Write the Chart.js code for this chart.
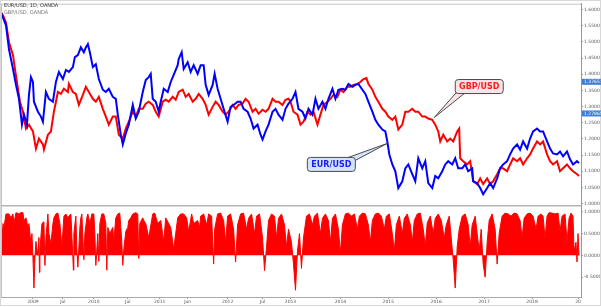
<!DOCTYPE html>
<html>
<head>
<meta charset="utf-8">
<script src="https://cdn.jsdelivr.net/npm/chart.js@4.4.1/dist/chart.umd.min.js"></script>
<style>
  html, body { margin: 0; padding: 0; background: #fff; }
  canvas { display: block; }
</style>
</head>
<body>
<canvas id="fx" width="601" height="307"></canvas>
<script>
// bar index (time) and close values
const eurIdx = [0,2,5,8,12,15,18,21,23,26,28,30,32,33,37,40,42,45,48,52,55,58,62,65,68,72,74,77,80,83,85,87,89,92,95,98,102,105,108,112,115,117,120,122,125,128,132,135,138,142,145,148,150,152,155,158,160,163,167,170,173,177,178,181,183,187,190,193,197,200,203,205,208,212,214,217,220,223,227,230,233,237,240,243,247,250,253,257,260,262,265,268,272,275,278,282,285,288,292,295,298,302,305,308,312,315,318,322,325,328,332,335,338,342,345,348,352,355,358,362,365,368,372,375,378,382,385,387,389,392,395,398,402,405,408,412,415,418,422,425,428,432,435,438,442,445,448,452,455,458,462,465,468,472,473,477,480,483,487,490,493,497,500,503,507,510,513,517,520,523,527,530,533,537,540,543,547,550,553,557,560,563,567,570,573,577,579];
const eurVal = [1.590,1.575,1.551,1.477,1.416,1.367,1.324,1.244,1.275,1.244,1.336,1.391,1.376,1.315,1.284,1.269,1.253,1.345,1.324,1.315,1.376,1.407,1.385,1.413,1.407,1.422,1.453,1.459,1.483,1.468,1.483,1.493,1.468,1.422,1.431,1.385,1.352,1.345,1.355,1.330,1.324,1.275,1.213,1.183,1.217,1.244,1.305,1.263,1.284,1.345,1.382,1.391,1.401,1.324,1.315,1.284,1.315,1.355,1.345,1.376,1.398,1.428,1.447,1.468,1.416,1.437,1.407,1.428,1.401,1.428,1.428,1.367,1.336,1.367,1.401,1.355,1.324,1.293,1.253,1.299,1.305,1.315,1.315,1.293,1.284,1.263,1.232,1.244,1.213,1.198,1.223,1.244,1.284,1.293,1.275,1.259,1.293,1.309,1.324,1.345,1.293,1.284,1.263,1.293,1.275,1.324,1.293,1.315,1.293,1.324,1.355,1.324,1.352,1.355,1.352,1.370,1.361,1.367,1.370,1.352,1.339,1.315,1.284,1.259,1.244,1.229,1.223,1.192,1.152,1.121,1.100,1.048,1.069,1.109,1.121,1.091,1.069,1.140,1.109,1.131,1.063,1.048,1.085,1.078,1.100,1.121,1.131,1.121,1.140,1.109,1.109,1.121,1.100,1.109,1.069,1.063,1.048,1.029,1.048,1.063,1.048,1.078,1.109,1.121,1.131,1.152,1.170,1.183,1.167,1.192,1.170,1.201,1.223,1.232,1.223,1.223,1.192,1.170,1.155,1.152,1.161,1.146,1.161,1.137,1.121,1.131,1.125];

const gbpIdx = [0,2,5,8,12,14,17,19,22,25,28,32,35,38,42,43,47,50,53,57,60,63,67,68,72,75,78,82,85,88,92,95,98,102,105,108,112,115,118,122,125,128,132,135,138,142,145,148,152,155,158,162,165,168,172,175,178,182,185,188,192,195,198,202,205,208,212,215,218,222,225,228,232,235,238,242,245,248,252,255,258,262,265,268,272,275,278,282,285,288,290,293,297,300,303,307,310,313,317,320,323,327,330,333,337,340,343,347,350,353,357,360,363,366,368,372,375,378,382,385,388,392,395,398,402,405,408,412,415,418,422,425,428,432,435,438,440,443,447,450,453,457,459,460,463,467,470,473,477,480,483,487,490,493,497,500,503,507,510,513,517,520,523,527,530,533,537,540,543,547,550,553,557,560,563,567,570,573,577,579];
const gbpVal = [1.591,1.582,1.560,1.499,1.459,1.416,1.355,1.315,1.284,1.232,1.244,1.223,1.170,1.201,1.183,1.167,1.213,1.223,1.284,1.345,1.339,1.355,1.345,1.370,1.345,1.339,1.305,1.336,1.361,1.345,1.324,1.315,1.330,1.293,1.269,1.244,1.269,1.269,1.213,1.201,1.232,1.253,1.284,1.269,1.293,1.293,1.309,1.315,1.305,1.284,1.269,1.315,1.321,1.315,1.330,1.321,1.345,1.352,1.330,1.339,1.315,1.324,1.339,1.324,1.305,1.275,1.299,1.315,1.305,1.284,1.275,1.284,1.305,1.293,1.305,1.309,1.324,1.315,1.284,1.293,1.278,1.290,1.284,1.293,1.324,1.315,1.315,1.305,1.321,1.324,1.315,1.284,1.275,1.244,1.253,1.284,1.275,1.284,1.244,1.275,1.305,1.315,1.324,1.336,1.330,1.352,1.345,1.361,1.361,1.367,1.370,1.376,1.385,1.388,1.370,1.352,1.330,1.315,1.293,1.284,1.269,1.259,1.269,1.229,1.244,1.284,1.284,1.293,1.284,1.284,1.269,1.269,1.263,1.259,1.244,1.223,1.192,1.213,1.192,1.201,1.192,1.223,1.232,1.140,1.131,1.121,1.131,1.069,1.060,1.078,1.060,1.078,1.060,1.069,1.091,1.109,1.109,1.100,1.121,1.140,1.131,1.140,1.121,1.140,1.152,1.170,1.192,1.183,1.192,1.152,1.131,1.121,1.131,1.100,1.109,1.121,1.109,1.100,1.091,1.085];

// lower pane: rolling correlation
const corrIdx = [0,2,3,5,8,10,12,13,15,18,20,22,23,25,27,28,30,31,32,33,34,35,37,38,38.5,39,41,43,44,45,47,48,50,52,53,55,57,59,61,62,63,65,67,68,70,72,72.5,73,75,76,77,79,80,81,83,84,86,87,89,91,93,94,95,97,98,99,101,103,105,106,107,109,112,113,115,117,119,121,122,123,125,127,128,130,132,135,137,138,139,142,143,145,148,152,154,157,160,163,165,168,170,173,177,180,183,186,188,191,193,197,199,200,203,206,208,211,213,214,217,220,223,225,227,230,233,235,237,240,243,246,248,251,254,256,259,262,264,266,268,271,274,276,278,281,284,286,288,291,293,295,297,299,301,303,306,309,312,314,317,320,322,325,328,330,332,335,338,340,342,345,348,351,354,357,359,362,365,368,370,372,375,378,381,384,386,389,392,394,396,399,402,404,407,410,412,414,417,420,423,425,427,430,433,435,438,441,444,446,449,451,453,455,457,459,462,465,468,470,472,475,477,479,481,483,485,487,489,492,495,497,499,502,505,508,511,514,517,520,522,524,527,530,533,536,538,541,543,545,547,549,552,555,558,560,562,565,567,569,571,573,574,576,577,578,579];
const corrVal = [0,0.73,0.64,0.95,0.95,0.86,0.95,0.73,0.98,0.95,0.98,0.98,0.8,0.86,0.64,0.73,0.27,0.5,-0.05,-0.75,-0.05,0.32,0,0.41,-0.39,0.14,0.73,0.77,-0.23,0.41,0.95,0.5,0.27,0.73,0.86,0.95,0.97,0.73,0.2,0.55,0.9,0.95,0.86,0.9,0.95,-0.05,-0.34,0.5,0.9,0.14,-0.27,0.64,0.86,0.95,-0.1,0.5,0.86,0.95,0.73,0.95,0.95,0.5,-0.23,0.5,-0.14,0.73,0.95,0.95,0.73,-0.34,0.64,0.5,0.64,0.32,0.86,0.95,0.97,0.32,-0.23,0.14,0.55,0.64,0.8,0.86,0.95,0.98,0.95,-0.07,0.73,0.86,0.8,0.73,0.41,0.95,0.97,0.73,0.8,0.32,0.86,0.73,0.64,0.14,0.86,0.95,0.95,0.86,0.55,0.95,0.73,0.8,0.64,0.9,0.95,0.7,0.95,0.9,-0.2,0.6,0.95,0.97,0.8,0.3,0.9,0.95,0.6,-0.15,0.7,0.95,0.97,0.6,0.85,0.95,0.5,0.9,0.95,0.4,-0.35,0.2,0.8,0.95,0.9,0.4,0.85,0.95,0.7,0.2,0.6,0.3,-0.2,-0.8,0.1,0.5,-0.3,0.4,0.9,0.95,0.7,0.9,0.97,0.5,0.85,0.95,0.8,0.3,0.85,0.95,0.6,0.05,0.7,0.95,0.97,0.9,0.95,0.6,0.9,0.97,0.95,0.7,0.3,0.8,0.95,0.97,0.9,0.6,0.9,0.95,0.5,0.1,0.7,0.9,0.5,0.85,0.95,0.7,0.3,0.8,0.95,0.97,0.6,0.2,0.75,0.9,0.5,0.85,0.95,0.8,0.4,0.7,0.9,0.4,-0.1,-0.75,0.2,0.6,0.9,0.95,0.7,0.2,0.7,0.9,0.5,0.1,0.6,-0.2,-0.5,0.3,0.8,0.95,0.6,-0.2,0.5,0.9,0.97,0.95,0.9,0.97,0.95,0.8,0.4,0.85,0.95,0.97,0.9,0.6,0.9,0.95,0.9,0.4,0.9,0.98,0.97,0.95,0.97,0.55,0.9,0.95,0.3,0.85,0.97,0.9,0.1,0.3,-0.15,0.5,0];

const tickPos = [32,62,93,127,159,187,227,262,290,340,388,436,484,532,578];
const tickLabels = ['2009','Jul','2010','Jul','2011','Jun','2012','Jul','2013','2014','2015','2016','2017','2018','20'];
const priceTicks = [1.00,1.05,1.10,1.15,1.20,1.25,1.30,1.35,1.40,1.45,1.50,1.55,1.60];
const corrTicks = [-0.5,0,0.5,1.0];
const axisTags = [1.37651, 1.27865];

const callouts = [
  { text: 'GBP/USD', x: 434, y: 1.266, dx: 45, dy: -31, fill: '#fbe4e7', color: '#ff1a1a', tail: [[-22, 5], [-15, 7]] },
  { text: 'EUR/USD', x: 387, y: 1.186, dx: -56, dy: 21, fill: '#d3e4fa', color: '#1a1aff', tail: [[17, -7], [24, -4]] }
];

const pts = (xs, ys) => xs.map((x, i) => ({ x: x, y: ys[i] }));

function roundRect(c, x, y, w, h, r) {
  c.beginPath();
  c.moveTo(x + r, y);
  c.arcTo(x + w, y, x + w, y + h, r);
  c.arcTo(x + w, y + h, x, y + h, r);
  c.arcTo(x, y + h, x, y, r);
  c.arcTo(x, y, x + w, y, r);
  c.closePath();
}

const decor = {
  id: 'decor',
  afterDraw(chart) {
    const c = chart.ctx;
    const a = chart.chartArea;
    const yp = chart.scales.yPrice, yc = chart.scales.yCorr, xs = chart.scales.x;
    c.save();
    // pane frames
    c.strokeStyle = '#c4c4c4';
    c.lineWidth = 1;
    c.beginPath();
    c.moveTo(a.left + 0.5, a.top); c.lineTo(a.left + 0.5, a.bottom);
    c.moveTo(a.left, a.top + 0.5); c.lineTo(a.right, a.top + 0.5);
    c.stroke();
    c.strokeStyle = '#b5b5b5';
    c.lineWidth = 1.5;
    c.beginPath();
    c.moveTo(a.left, yp.bottom); c.lineTo(a.right, yp.bottom);
    c.stroke();
    c.strokeStyle = '#d8d8d8';
    c.lineWidth = 1;
    c.strokeRect(0.5, 0.5, 600, 305);

    // header
    c.font = '5px "DejaVu Sans"';
    c.textBaseline = 'middle';
    c.fillStyle = '#333';
    c.fillText('EUR/USD, 1D, OANDA', 4, 6);
    c.fillStyle = '#777';
    c.fillText('GBP/USD, OANDA', 4, 13);

    // last value tags on price axis
    c.font = '4.5px "DejaVu Sans"';
    axisTags.forEach(v => {
      const py = yp.getPixelForValue(v);
      c.fillStyle = '#3d7fd6';
      c.fillRect(a.right + 1, py - 3, 19, 6);
      c.fillStyle = '#fff';
      c.fillText(v.toFixed(5), a.right + 3, py);
    });

    // callouts
    c.font = 'bold 8px "DejaVu Sans"';
    callouts.forEach(o => {
      const tx = xs.getPixelForValue(o.x), ty = yp.getPixelForValue(o.y);
      const cx = tx + o.dx, cy = ty + o.dy;
      const w = 48, h = 14;
      c.fillStyle = o.fill;
      c.strokeStyle = '#4a4a4a';
      c.lineWidth = 1;
      c.beginPath();
      c.moveTo(tx, ty);
      c.lineTo(cx + o.tail[0][0], cy + o.tail[0][1]);
      c.lineTo(cx + o.tail[1][0], cy + o.tail[1][1]);
      c.closePath();
      c.fill();
      c.stroke();
      roundRect(c, cx - w / 2, cy - h / 2, w, h, 3);
      c.fill();
      c.stroke();
      c.fillStyle = o.color;
      c.textAlign = 'center';
      c.fillText(o.text, cx, cy + 0.5);
      c.textAlign = 'left';
    });
    c.restore();
  }
};

new Chart(document.getElementById('fx'), {
  type: 'line',
  data: {
    datasets: [
      { label: 'EUR/USD', data: pts(eurIdx, eurVal), yAxisID: 'yPrice', borderColor: '#0000ff', borderWidth: 2, pointRadius: 0, tension: 0 },
      { label: 'GBP/USD', data: pts(gbpIdx, gbpVal), yAxisID: 'yPrice', borderColor: '#ff0000', borderWidth: 2, pointRadius: 0, tension: 0 },
      { label: 'Correlation', data: pts(corrIdx, corrVal), yAxisID: 'yCorr', borderColor: '#ff0000', backgroundColor: '#ff0000', fill: { value: 0 }, borderWidth: 1, pointRadius: 0, tension: 0 }
    ]
  },
  options: {
    responsive: false,
    animation: false,
    layout: { padding: { left: 1, top: 1, right: 0, bottom: 0 } },
    plugins: { legend: { display: false }, tooltip: { enabled: false } },
    scales: {
      x: {
        type: 'linear', min: 0, max: 581,
        afterBuildTicks: s => { s.ticks = tickPos.map(v => ({ value: v })); },
        afterFit: s => { s.height = 10; },
        ticks: {
          autoSkip: false, maxRotation: 0, padding: 0, color: '#555',
          font: { size: 4.5, family: '"DejaVu Sans"' },
          callback: v => tickLabels[tickPos.indexOf(v)]
        },
        grid: { drawOnChartArea: false, tickLength: 2, color: '#999' },
        border: { color: '#aaa' }
      },
      yPrice: {
        type: 'linear', position: 'right', stack: 'panes', stackWeight: 204,
        min: 0.993, max: 1.618,
        afterBuildTicks: s => { s.ticks = priceTicks.map(v => ({ value: v })); },
        afterFit: s => { s.width = 20; },
        ticks: { padding: 1, color: '#555', font: { size: 4.5, family: '"DejaVu Sans"' }, callback: v => v.toFixed(5) },
        grid: { drawOnChartArea: false, tickLength: 2, color: '#999' },
        border: { color: '#999' }
      },
      yCorr: {
        type: 'linear', position: 'right', stack: 'panes', stackWeight: 92,
        min: -0.955, max: 1.136,
        afterBuildTicks: s => { s.ticks = corrTicks.map(v => ({ value: v })); },
        afterFit: s => { s.width = 20; },
        ticks: { padding: 1, color: '#555', font: { size: 4.5, family: '"DejaVu Sans"' }, callback: v => v.toFixed(4) },
        grid: { drawOnChartArea: false, tickLength: 2, color: '#999' },
        border: { color: '#999' }
      }
    }
  },
  plugins: [decor]
});
</script>
</body>
</html>
